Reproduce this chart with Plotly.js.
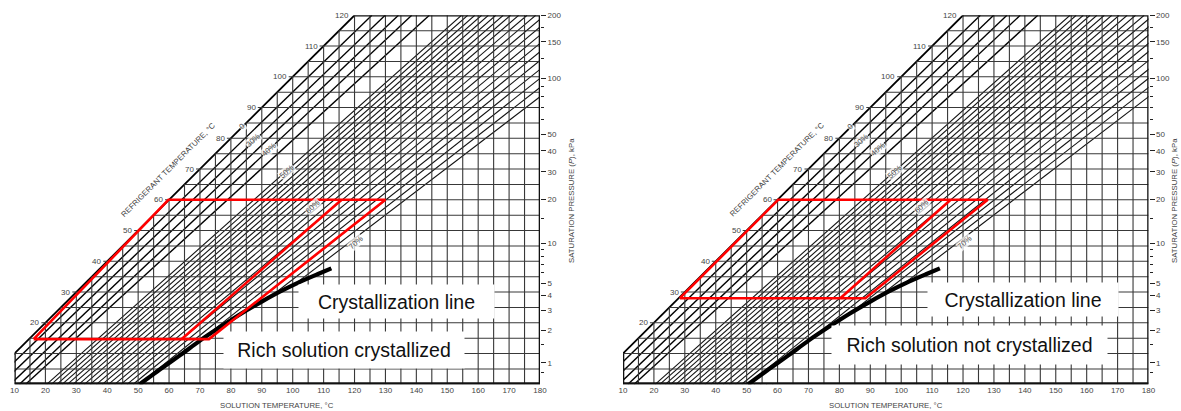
<!DOCTYPE html>
<html><head><meta charset="utf-8">
<script src="https://cdn.plot.ly/plotly-3.0.1.min.js"></script>
<style>html,body{margin:0;padding:0;background:#fff;}#chart{width:1181px;height:411px;}</style>
</head><body><div id="chart"></div>
<script>
// ---------- data ----------
const xTicks = [10,20,30,40,50,60,70,80,90,100,110,120,130,140,150,160,170,180];
const refTempLabels = [0,10,20,30,40,50,60,70,80,90,100,110,120];
const gridSolTemps = [15,20,25,30,35,40,45,50,55,60,65,70,75,80,85,90,95,100,105,110,115,120,125,130,135,140,145,150,155,160,165,170,175];
const gridRefTemps = [5,10,15,20,25,30,35,40,45,50,55,60,65,70,75,80,85,90,95,100,105,110,115];
const pressureLabels = ['1','2','3','4','5','10','20','30','40','50','100','150','200'];
const pressureRefTemps = [7.0,17.5,24.1,29.0,32.9,45.8,60.1,69.1,75.9,81.3,99.6,111.4,120];
const pressureMinorRefTemps = [3.8,13.0,36.2,39.0,41.5,43.8,54.0,86.0,90.0,93.5,96.7,106.0,116.1];

// concentration lines (% LiBr): solution temp where each line meets refrigerant 0 and 120 degC
const concPct =        [0,  20,   30,   35,   40,   45,   50,   51,   52,   53,   54,   55,   56,   57,   58,   59,   60,   61,   62,   63,   64,   65,   66,   67,   68,   69,   70];
const concSolAtRef0 =  [0,  2.5,  5.5,  8.6,  11.6, 13.6, 20.4, 21.9, 23.7, 25.4, 27.1, 28.9, 30.8, 32.6, 34.5, 36.5, 38.4, 40.4, 42.4, 44.4, 46.4, 48.4, 50.4, 52.4, 54.4, 56.3, 58.3];
const concSolAtRef120 =[120,125.6,129.9,134.2,138.5,144.2,154.6,156.6,158.9,161.1,163.3,165.7,168.1,170.5,173.1,175.8,178.6,181.5,184.5,187.7,191.0,194.4,198.1,201.9,205.9,210.1,214.5];
const concLabels = ['0','30%','40%','50%','60%','70%'];
const concLabelSol = [83.6, 87.1, 92.4, 98.1, 106.6, 120.5];
const concLabelRef = [83.8, 79.4, 76.4, 69.1, 57.7, 46.1];

// crystallization line
const crystSol = [50.5, 57, 63.5, 70, 76.5, 83, 90, 96, 102.5, 108, 112.5];
const crystRef = [0, 4.8, 9.4, 14.2, 18.6, 22.8, 26.9, 30.2, 33.4, 35.8, 37.7];

// red cycle outlines
const leftRedSol = [16.2, 59.8, 130.0, 72.9, 16.2];
const leftRedRef = [14.7, 60, 60, 14.7, 14.7];
const leftRedInnerSol = [115.8, 64.1];
const leftRedInnerRef = [60, 14.7];
const rightRedSol = [28.4, 60.2, 128.0, 88.4, 28.4];
const rightRedRef = [28.0, 60, 60, 28.0, 28.0];
const rightRedInnerSol = [116.0, 80.3];
const rightRedInnerRef = [60, 28.0];

// text boxes
const leftTexts = ['Crystallization line','Rich solution crystallized'];
const leftTextSol = [133.7, 116.6];
const leftTextRef = [26.9, 11.15];
const leftTextBox = [[195,33],[240,36]];
const rightTexts = ['Crystallization line','Rich solution not crystallized'];
const rightTextSol = [139.3, 122.0];
const rightTextRef = [27.7, 12.8];
const rightTextBox = [[190,33],[275,38]];

// ---------- build ----------
const FONT = 'Liberation Sans, Arial, sans-serif';
const GRAY = '#444';
const XMIN = 10, XMAX = 180, YMIN = 0, YMAX = 120;

function buildTraces(xa, ya, redSol, redRef, redInSol, redInRef) {
  const t = [];
  // concentration lines: sparse group (bolder) and 1 % group
  const sx = [], sy = [], dx = [], dy = [];
  for (let i = 1; i < concPct.length; i++) {
    const tx = concPct[i] <= 45 ? sx : dx, ty = concPct[i] <= 45 ? sy : dy;
    tx.push(concSolAtRef0[i], concSolAtRef120[i], null);
    ty.push(0, 120, null);
  }
  t.push({x: dx, y: dy, mode: 'lines', line: {color: '#111', width: 1.1}, xaxis: xa, yaxis: ya, hoverinfo: 'skip'});
  t.push({x: sx, y: sy, mode: 'lines', line: {color: '#000', width: 1.4}, xaxis: xa, yaxis: ya, hoverinfo: 'skip'});
  t.push({x: [concSolAtRef0[0], concSolAtRef120[0]], y: [0, 120], mode: 'lines', line: {color: '#000', width: 1.8}, xaxis: xa, yaxis: ya, hoverinfo: 'skip'});
  // white mask over the crystallized region
  const mx = crystSol.concat([XMAX, XMAX, crystSol[0]]);
  const my = crystRef.concat([crystRef[crystRef.length - 1], YMIN, YMIN]);
  t.push({x: mx, y: my, mode: 'lines', fill: 'toself', fillcolor: '#fff', line: {width: 0, color: 'rgba(0,0,0,0)'}, xaxis: xa, yaxis: ya, hoverinfo: 'skip'});
  // grid
  const gx = [], gy = [];
  gridSolTemps.forEach(s => { gx.push(s, s, null); gy.push(YMIN, Math.min(s, YMAX), null); });
  gridRefTemps.forEach(r => {
    const start = (r % 10 === 0 && r > 10) ? r - 1.3 : Math.max(XMIN, r);
    gx.push(start, XMAX, null); gy.push(r, r, null);
  });
  t.push({x: gx, y: gy, mode: 'lines', line: {color: '#383838', width: 1.1}, xaxis: xa, yaxis: ya, hoverinfo: 'skip'});
  // chart border (edges sit on the plot edge, so doubled width)
  t.push({x: [XMIN, XMIN, XMAX, XMAX, YMAX], y: [10, YMIN, YMIN, YMAX, YMAX], mode: 'lines', line: {color: '#111', width: 2.6}, xaxis: xa, yaxis: ya, hoverinfo: 'skip'});
  t.push({x: [XMIN, XMAX], y: [YMIN, YMIN], mode: 'lines', line: {color: '#111', width: 4}, xaxis: xa, yaxis: ya, hoverinfo: 'skip'});
  // crystallization line
  t.push({x: crystSol, y: crystRef, mode: 'lines', line: {color: '#000', width: 4.2, shape: 'spline', smoothing: 0.6}, xaxis: xa, yaxis: ya, hoverinfo: 'skip'});
  // red cycle
  t.push({x: redSol, y: redRef, mode: 'lines', line: {color: '#ff0000', width: 2.6}, xaxis: xa, yaxis: ya, hoverinfo: 'skip'});
  t.push({x: redInSol, y: redInRef, mode: 'lines', line: {color: '#ff0000', width: 2.6}, xaxis: xa, yaxis: ya, hoverinfo: 'skip'});
  return t;
}

function buildAnnotations(xa, ya, xPaperCenter, pPaperX, texts, tSol, tRef, tBox) {
  const a = [];
  refTempLabels.forEach(r => {
    a.push({x: Math.max(r, XMIN) - (r > 10 ? 1.3 : 0.8), y: r, xref: xa, yref: ya, text: String(r), showarrow: false,
      xanchor: 'right', yanchor: 'middle', font: {family: FONT, size: 8, color: GRAY}});
  });
  concLabels.forEach((s, i) => {
    a.push({x: concLabelSol[i], y: concLabelRef[i], xref: xa, yref: ya, text: s, showarrow: false, textangle: -42,
      font: {family: FONT, size: 7.8, color: '#444'}, bgcolor: 'rgba(255,255,255,0.75)', borderpad: 0});
  });
  a.push({x: 59.8, y: 70.0, xref: xa, yref: ya, text: 'REFRIGERANT TEMPERATURE, °C', showarrow: false, textangle: -45,
    font: {family: FONT, size: 7.8, color: GRAY}});
  a.push({x: xPaperCenter, y: 6 / 411, xref: 'paper', yref: 'paper', text: 'SOLUTION TEMPERATURE, °C', showarrow: false,
    xanchor: 'center', yanchor: 'middle', font: {family: FONT, size: 7.8, color: GRAY}});
  a.push({x: pPaperX, y: (411 - 201) / 411, xref: 'paper', yref: 'paper', text: 'SATURATION PRESSURE (<i>P</i>), kPa', showarrow: false,
    textangle: -90, xanchor: 'center', yanchor: 'middle', font: {family: FONT, size: 7.8, color: GRAY}});
  texts.forEach((s, i) => {
    a.push({x: tSol[i], y: tRef[i], xref: xa, yref: ya, text: s, showarrow: false, bgcolor: '#fff',
      width: tBox[i][0], height: tBox[i][1], align: 'center', valign: 'middle', borderpad: 0,
      font: {family: FONT, size: 19.5, color: '#111'}});
  });
  return a;
}

const L = {x0: 14.5, x1: 540};      // left chart pixel extents of 10 and 180 degC
const R = {x0: 623, x1: 1148.5};    // right chart
const yTopPx = 15.3, yBotPx = 384.3;
const W = 1181, H = 411;
const yDom = [(H - yBotPx) / H, (H - yTopPx) / H];

const traces = buildTraces('x', 'y', leftRedSol, leftRedRef, leftRedInnerSol, leftRedInnerRef)
  .concat(buildTraces('x2', 'y2', rightRedSol, rightRedRef, rightRedInnerSol, rightRedInnerRef));

const tickFont = {family: FONT, size: 8, color: GRAY};
function xAxis(d) {
  return {domain: d, range: [XMIN, XMAX], tickmode: 'array', tickvals: xTicks, showgrid: false, zeroline: false,
    showline: false, ticks: '', tickfont: tickFont, automargin: false, fixedrange: true};
}
function yAxis(xa) {
  return {domain: yDom, anchor: xa, range: [YMIN, YMAX], showgrid: false, zeroline: false, showline: false,
    showticklabels: false, ticks: '', automargin: false, fixedrange: true};
}
function pAxis(over, pos) {
  return {overlaying: over, side: 'right', anchor: 'free', position: pos, range: [YMIN, YMAX], tickmode: 'array',
    tickvals: pressureRefTemps, ticktext: pressureLabels, ticks: 'outside', ticklen: 5, tickwidth: 1, tickcolor: '#222',
    showgrid: false, zeroline: false, showline: false, tickfont: tickFont, automargin: false, fixedrange: true,
    minor: {tickmode: 'array', tickvals: pressureMinorRefTemps, ticks: 'outside', ticklen: 3, tickwidth: 1, tickcolor: '#222', showgrid: false}};
}

const layout = {
  width: W, height: H, margin: {l: 0, r: 0, t: 0, b: 0}, paper_bgcolor: '#fff', plot_bgcolor: '#fff', showlegend: false,
  xaxis: xAxis([L.x0 / W, L.x1 / W]), yaxis: yAxis('x'),
  xaxis2: xAxis([R.x0 / W, R.x1 / W]), yaxis2: yAxis('x2'),
  yaxis3: pAxis('y', L.x1 / W), yaxis4: pAxis('y2', R.x1 / W),
  annotations: buildAnnotations('x', 'y', (L.x0 + L.x1) / 2 / W, 572 / W, leftTexts, leftTextSol, leftTextRef, leftTextBox)
    .concat(buildAnnotations('x2', 'y2', (R.x0 + R.x1) / 2 / W, 1175 / W, rightTexts, rightTextSol, rightTextRef, rightTextBox))
};
// invisible points so the pressure axes are drawn
traces.push({x: [XMIN], y: [YMIN], xaxis: 'x', yaxis: 'y3', mode: 'markers', marker: {opacity: 0}, hoverinfo: 'skip'});
traces.push({x: [XMIN], y: [YMIN], xaxis: 'x2', yaxis: 'y4', mode: 'markers', marker: {opacity: 0}, hoverinfo: 'skip'});

Plotly.newPlot('chart', traces, layout, {staticPlot: true, displayModeBar: false});
</script></body></html>
